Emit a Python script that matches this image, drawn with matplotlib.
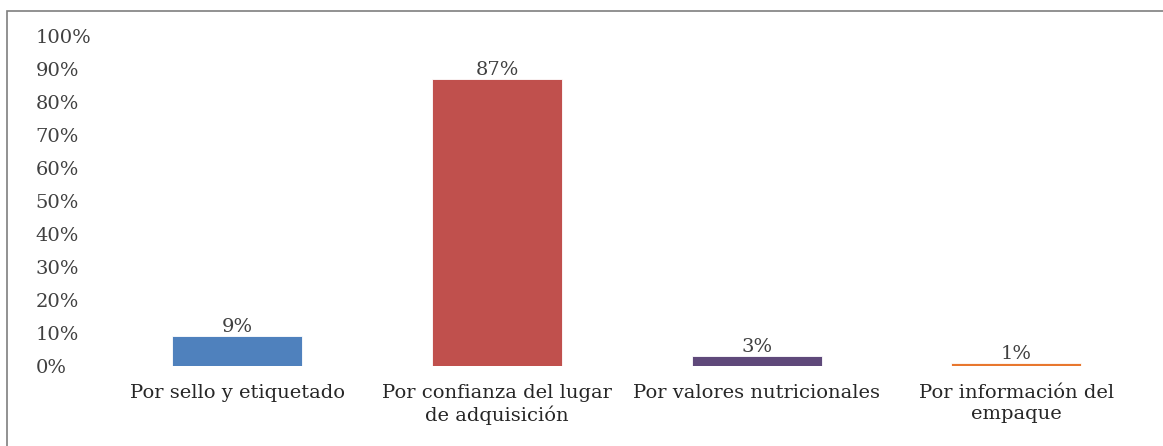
import matplotlib
matplotlib.use("Agg")
from matplotlib import pyplot as plt
from matplotlib.patches import Rectangle
from matplotlib.ticker import FuncFormatter
import numpy as np

categories = [
    "Por sello y etiquetado",
    "Por confianza del lugar\nde adquisición",
    "Por valores nutricionales",
    "Por información del\nempaque",
]
shares = [0.09, 0.87, 0.03, 0.01]
share_labels = ["9%", "87%", "3%", "1%"]
bar_colors = ["#4F81BD", "#C0504D", "#5F497A", "#E8772E"]
y_ticks = np.linspace(0, 1, 11)

plt.rcParams["font.family"] = ["DejaVu Serif"]

fig = plt.figure(figsize=(11.63, 4.46), dpi=100)
ax = fig.add_axes([0.0925, 0.1794, 0.893, 0.7399])

x = np.arange(len(categories))
bars = ax.bar(x, shares, width=0.5, color=bar_colors, edgecolor="white", linewidth=0.6)

for rect, label in zip(bars, share_labels):
    ax.annotate(label, (rect.get_x() + rect.get_width() / 2, rect.get_height()),
                xytext=(0, 0), textcoords="offset points",
                ha="center", va="bottom", fontsize=14, color="#404040")

ax.set_xlim(-0.5, len(categories) - 0.5)
ax.set_ylim(0, 1)
ax.set_yticks(y_ticks)
ax.yaxis.set_major_formatter(FuncFormatter(lambda v, _: f"{v:.0%}"))
ax.set_xticks(x)
ax.set_xticklabels(categories, fontsize=14, color="#262626", linespacing=1.2)

ax.tick_params(axis="y", length=0, pad=52, labelsize=14, labelcolor="#404040")
ax.tick_params(axis="x", length=0, pad=13)
for label in ax.get_yticklabels():
    label.set_horizontalalignment("left")

for side in ["top", "right", "left", "bottom"]:
    ax.spines[side].set_visible(False)

# outer frame around the chart area
frame = Rectangle((7 / 1163, -0.05), 1.1, 1 - 10.5 / 446 + 0.05,
                  transform=fig.transFigure, fill=False,
                  edgecolor="#7f7f7f", linewidth=1.2)
fig.patches.append(frame)

fig.savefig("out.png", dpi=100)
